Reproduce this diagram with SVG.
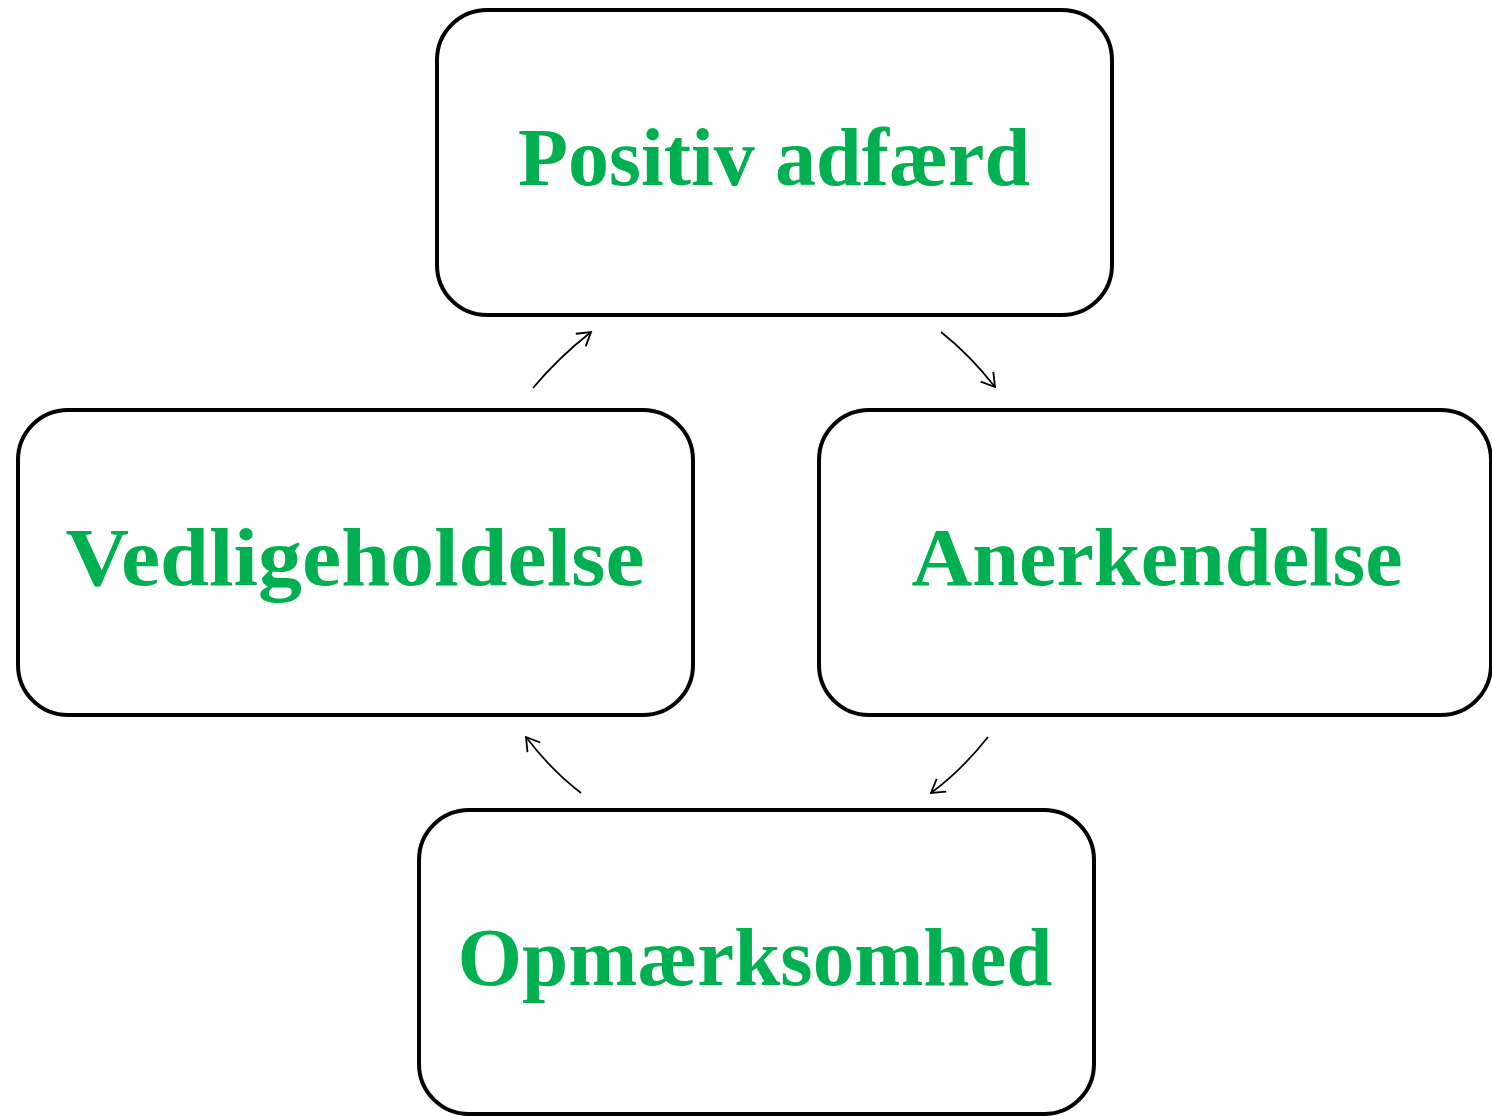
<svg xmlns="http://www.w3.org/2000/svg" width="1492" height="1116" viewBox="0 0 1492 1116">
<style>
.box{fill:#fff;stroke:#000;stroke-width:4}
.lbl{font-family:"Liberation Serif","DejaVu Serif",serif;font-weight:bold;font-size:83px;fill:#00B050;text-anchor:middle}
.arr{fill:none;stroke:#000;stroke-width:1.7;marker-end:url(#ah)}
</style>
<defs>
<marker id="ah" markerUnits="userSpaceOnUse" markerWidth="24" markerHeight="24" refX="17" refY="10" orient="auto" viewBox="0 0 24 20">
<path d="M4,2 L17,10 L4,18" fill="none" stroke="#000" stroke-width="1.8"/>
</marker>
</defs>
<rect width="1492" height="1116" fill="#fff"/>
<g id="node-positiv">
<rect class="box" x="437" y="10" width="675" height="305" rx="50"/>
<text class="lbl" x="774" y="185" textLength="512" lengthAdjust="spacingAndGlyphs">Positiv adfærd</text>
</g>
<g id="node-anerkendelse">
<rect class="box" x="819" y="410" width="672" height="305" rx="50"/>
<text class="lbl" x="1157" y="585" textLength="491" lengthAdjust="spacingAndGlyphs">Anerkendelse</text>
</g>
<g id="node-opmaerksomhed">
<rect class="box" x="419" y="810" width="675" height="304" rx="50"/>
<text class="lbl" x="755" y="985" textLength="595" lengthAdjust="spacingAndGlyphs">Opmærksomhed</text>
</g>
<g id="node-vedligeholdelse">
<rect class="box" x="18" y="410" width="675" height="305" rx="50"/>
<text class="lbl" x="355" y="585" textLength="579" lengthAdjust="spacingAndGlyphs">Vedligeholdelse</text>
</g>
<g id="connectors">
<path class="arr" d="M533,388 Q558,358 591,332"/>
<path class="arr" d="M941,332 Q970,355 995,387"/>
<path class="arr" d="M988,737 Q962,770 931,793"/>
<path class="arr" d="M581,793 Q551,770 526,737"/>
</g>
</svg>
